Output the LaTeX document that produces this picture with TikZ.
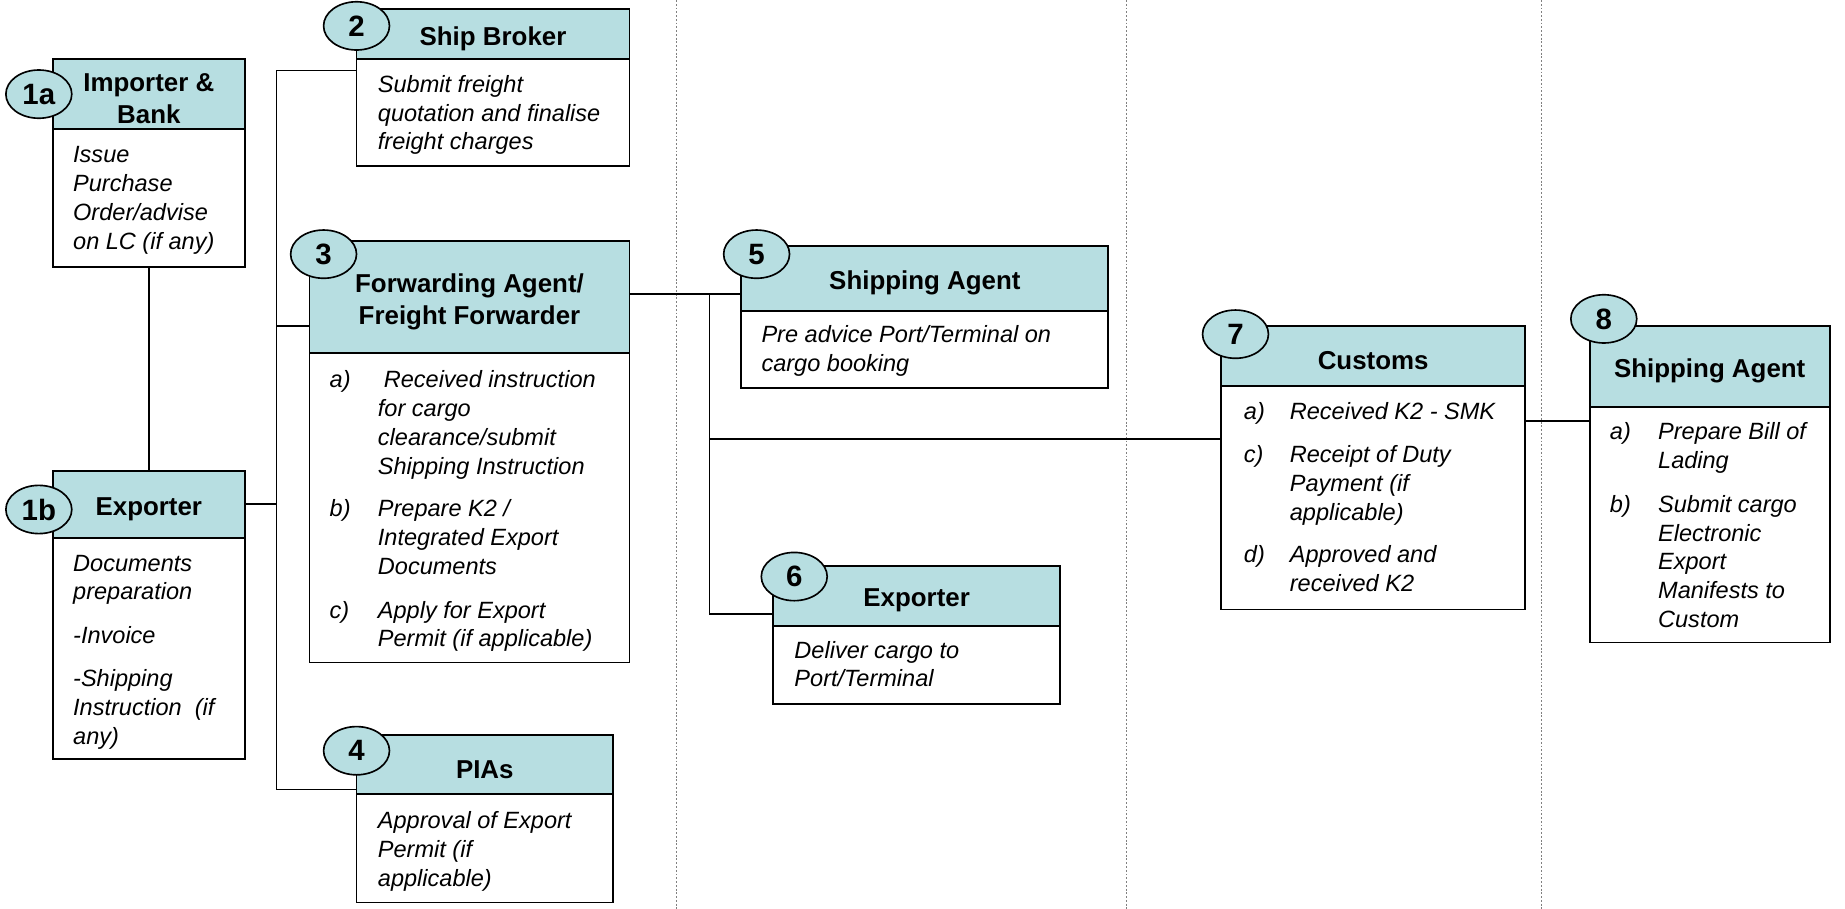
\documentclass[tikz,border=0pt]{standalone}
\usepackage{fontspec}
\setmainfont{Liberation Sans}
\usetikzlibrary{shapes.geometric}
\definecolor{hdrfill}{RGB}{183,222,225}
\tikzset{
 hdr/.style={draw, fill=hdrfill, line width=1.6pt, inner sep=0pt},
 htxt/.style={inner sep=0pt, align=center, yshift=-4pt, font=\bfseries\fontsize{22}{27}\selectfont},
 bodyb/.style={draw, fill=white, line width=1.6pt, inner sep=0pt},
 num/.style={ellipse, draw, fill=hdrfill, line width=1.4pt, minimum width=56pt, minimum height=41pt, inner sep=0pt, font=\bfseries\fontsize{25}{29}\selectfont},
 txt/.style={anchor=north west, align=left, inner sep=0pt, font=\itshape\fontsize{20}{24.5}\selectfont},
 conn/.style={line width=1.4pt},
 lane/.style={draw=gray, line width=0.9pt, dash pattern=on 1.6pt off 1.6pt}
}
\begin{document}
\begin{tikzpicture}[x=1pt,y=-1pt]
\useasboundingbox (0,0) rectangle (1568,772.5);
% swim lane separators
\draw[lane] (575,0) -- (575,772.5);
\draw[lane] (957,0) -- (957,772.5);
\draw[lane] (1310,0) -- (1310,772.5);

% boxes: body then header
\node[bodyb, minimum width=163pt, minimum height=117pt] (b1a) at (126.5,168.5) {};
\node[hdr, minimum width=163pt, minimum height=60pt] (h1a) at (126.5,80) {};
\node[htxt] (n1a) at (h1a) {Importer \&\\Bank};

\node[bodyb, minimum width=163pt, minimum height=188pt] (b1b) at (126.5,551) {};
\node[hdr, minimum width=163pt, minimum height=57pt] (h1b) at (126.5,428.5) {};
\node[htxt] (n1b) at (h1b) {Exporter};

\node[bodyb, minimum width=232pt, minimum height=91pt] (b2) at (419,95.5) {};
\node[hdr, minimum width=232pt, minimum height=42pt] (h2) at (419,29) {};
\node[htxt] (n2) at (h2) {Ship Broker};

\node[bodyb, minimum width=272pt, minimum height=263pt] (b3) at (399,431.5) {};
\node[hdr, minimum width=272pt, minimum height=95pt] (h3) at (399,252.5) {};
\node[htxt] (n3) at (h3) {Forwarding Agent/\\Freight Forwarder};

\node[bodyb, minimum width=218pt, minimum height=92pt] (b4) at (412,721) {};
\node[hdr, minimum width=218pt, minimum height=50pt] (h4) at (412,650) {};
\node[htxt] (n4) at (h4) {PIAs};

\node[bodyb, minimum width=312pt, minimum height=66pt] (b5) at (786,297) {};
\node[hdr, minimum width=312pt, minimum height=55pt] (h5) at (786,236.5) {};
\node[htxt] (n5) at (h5) {Shipping Agent};

\node[bodyb, minimum width=244pt, minimum height=66pt] (b6) at (779,565) {};
\node[hdr, minimum width=244pt, minimum height=51pt] (h6) at (779,506.5) {};
\node[htxt] (n6) at (h6) {Exporter};

\node[bodyb, minimum width=258pt, minimum height=190pt] (b7) at (1167,423) {};
\node[hdr, minimum width=258pt, minimum height=51pt] (h7) at (1167,302.5) {};
\node[htxt] (n7) at (h7) {Customs};

\node[bodyb, minimum width=204pt, minimum height=200pt] (b8) at (1453,446) {};
\node[hdr, minimum width=204pt, minimum height=69pt] (h8) at (1453,311.5) {};
\node[htxt] (n8) at (h8) {Shipping Agent};

% number ellipses
\node[num] (c1a) at (33,80) {1a};
\node[num] (c1b) at (33,433) {1b};
\node[num] (c2) at (303,22) {2};
\node[num] (c3) at (275,216) {3};
\node[num] (c4) at (303,638) {4};
\node[num] (c5) at (643,216) {5};
\node[num] (c6) at (675,490) {6};
\node[num] (c7) at (1050,284) {7};
\node[num] (c8) at (1363,271) {8};

% body texts
\node[txt] (t1a) at (62,121) {\strut Issue\\Purchase\\Order/advise\\on LC (if any)};
\node[txt] (t1b) at (62,468) {\strut Documents\\preparation\\[12.5pt]-Invoice\\[12.5pt]-Shipping\\Instruction\ \ (if\\any)};
\node[txt] (t2) at (321,61) {\strut Submit freight\\quotation and finalise\\freight charges};
\node[txt] (t4) at (321,687) {\strut Approval of Export\\Permit (if\\applicable)};
\node[txt] (t5) at (647,274) {\strut Pre advice Port/Terminal on\\cargo booking};
\node[txt] (t6) at (675,542) {\strut Deliver cargo to\\Port/Terminal};

\node[txt] (l3a) at (280,312) {\strut a)};
\node[txt] (t3a) at (321,312) {\strut\hspace{5pt}Received instruction\\for cargo\\clearance/submit\\Shipping Instruction};
\node[txt] (l3b) at (280,422) {\strut b)};
\node[txt] (t3b) at (321,422) {\strut Prepare K2 /\\Integrated Export\\Documents};
\node[txt] (l3c) at (280,508) {\strut c)};
\node[txt] (t3c) at (321,508) {\strut Apply for Export\\Permit (if applicable)};

\node[txt] (l7a) at (1057,339) {\strut a)};
\node[txt] (t7a) at (1096,339) {\strut Received K2 - SMK};
\node[txt] (l7c) at (1057,376) {\strut c)};
\node[txt] (t7c) at (1096,376) {\strut Receipt of Duty\\Payment (if\\applicable)};
\node[txt] (l7d) at (1057,461) {\strut d)};
\node[txt] (t7d) at (1096,461) {\strut Approved and\\received K2};

\node[txt] (l8a) at (1368,356) {\strut a)};
\node[txt] (t8a) at (1409,356) {\strut Prepare Bill of\\Lading};
\node[txt] (l8b) at (1368,418) {\strut b)};
\node[txt] (t8b) at (1409,418) {\strut Submit cargo\\Electronic\\Export\\Manifests to\\Custom};

% connectors
\coordinate (j1) at (235,60);
\coordinate (j2) at (235,277);
\coordinate (j4) at (235,671);
\draw[conn] (b1a.south) -- (h1b.north);
\draw[conn] (b2.west |- j1) -- (j1) -- (j4) -- (h4.west |- j4);
\draw[conn] (j2) -- (j2 -| h3.west);
\draw[conn] (h1b.east) -- (h1b.east -| j1);

\coordinate (r1) at (603,250);
\coordinate (r2) at (603,373);
\coordinate (r3) at (603,522);
\draw[conn] (h3.east |- r1) -- (h5.west |- r1);
\draw[conn] (r1) -- (r3) -- (r3 -| h6.west);
\draw[conn] (r2) -- (r2 -| b7.west);
\coordinate (k) at (1320,358);
\draw[conn] (b7.east |- k) -- (b8.west |- k);
\end{tikzpicture}
\end{document}
